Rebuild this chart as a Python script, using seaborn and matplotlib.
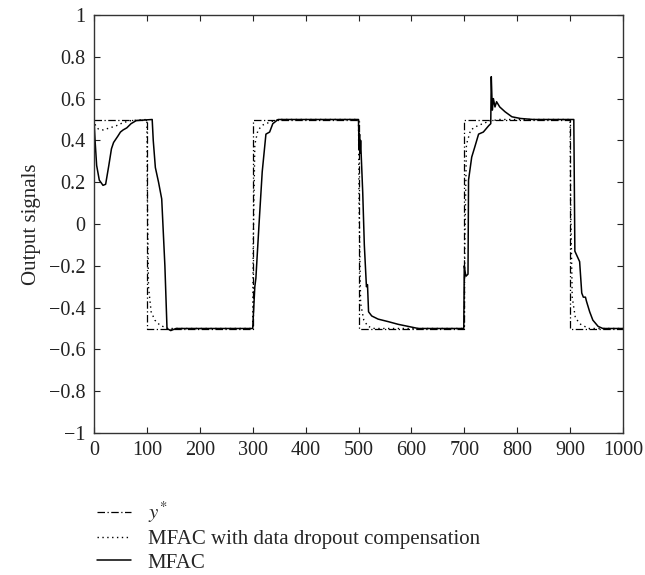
import matplotlib
matplotlib.use("Agg")
import matplotlib.pyplot as plt
import numpy as np
import pandas as pd
import seaborn as sns

# reference signal y* (piecewise constant)
ref_k = [0, 100, 300, 500, 700, 900, 1000]
ref_y = [0.5, -0.5, 0.5, -0.5, 0.5, -0.5, -0.5]

# MFAC with data dropout compensation (dotted)
comp_k = [0, 3, 8, 17, 30, 42, 55, 70, 100, 101, 103, 108, 115, 125, 140, 160,
          300, 301, 304, 310, 320, 335, 350, 500, 501, 504, 510, 518, 530,
          700, 701, 704, 712, 725, 745, 765, 900, 901, 904, 910, 920, 935, 1000]
comp_y = [0.5, 0.47, 0.455, 0.45, 0.46, 0.47, 0.485, 0.495, 0.5, 0.1, -0.3,
          -0.42, -0.46, -0.485, -0.5, -0.5,
          -0.5, -0.1, 0.38, 0.45, 0.475, 0.49, 0.5, 0.5, 0.1, -0.38, -0.46,
          -0.49, -0.5,
          -0.5, -0.1, 0.38, 0.45, 0.47, 0.49, 0.5, 0.5, 0.1, -0.35, -0.45,
          -0.48, -0.5, -0.5]

# MFAC (solid)
mfac_k = [0, 2, 5, 10, 17, 22, 28, 33, 37, 45, 50, 55, 62, 70, 80, 110,
          112, 116, 122, 128, 134, 138, 145, 155,
          300, 301, 304, 306, 312, 318, 325, 332, 338, 348,
          498, 500, 501, 502, 503, 504, 508, 511, 515, 517, 519, 525, 537,
          556, 575, 594, 613,
          699, 700, 701, 703, 707, 708, 714, 720, 727, 736, 746, 750, 751,
          753, 755, 758, 761, 767, 777, 790, 806, 830,
          907, 909, 918, 922, 925, 929, 931, 937, 943, 953, 962, 1000]
mfac_y = [0.5, 0.4, 0.28, 0.21, 0.185, 0.19, 0.28, 0.36, 0.39, 0.42, 0.44,
          0.45, 0.46, 0.48, 0.495, 0.5,
          0.4, 0.27, 0.2, 0.12, -0.2, -0.5, -0.51, -0.5,
          -0.5, -0.45, -0.3, -0.26, 0.0, 0.25, 0.43, 0.44, 0.48, 0.5,
          0.5, 0.5, 0.36, 0.43, 0.34, 0.4, 0.15, -0.1, -0.3, -0.29, -0.42,
          -0.44, -0.455, -0.467, -0.48, -0.49, -0.5,
          -0.5, -0.2, -0.22, -0.25, -0.24, 0.21, 0.32, 0.37, 0.43, 0.44,
          0.47, 0.48, 0.705, 0.545, 0.6, 0.56, 0.585, 0.56, 0.537, 0.513,
          0.505, 0.5,
          0.5, -0.13, -0.18, -0.33, -0.35, -0.35, -0.37, -0.42, -0.46,
          -0.49, -0.5, -0.5]

sns.set_style("ticks")
plt.rcParams["font.family"] = ["Liberation Serif", "DejaVu Serif"]
plt.rcParams["mathtext.fontset"] = "stix"
plt.rcParams["axes.unicode_minus"] = True

fig = plt.figure(figsize=(6.45, 5.75), dpi=100)
ax = fig.add_axes([94 / 645, 1 - 433 / 575, 529 / 645, 418 / 575])

ref_df = pd.DataFrame({"k": ref_k, "y": ref_y})
comp_df = pd.DataFrame({"k": comp_k, "y": comp_y})
mfac_df = pd.DataFrame({"k": mfac_k, "y": mfac_y})

sns.lineplot(data=ref_df, x="k", y="y", ax=ax, color="black", lw=0.9,
             linestyle=(0, (6, 2, 1, 2)), drawstyle="steps-post",
             estimator=None, sort=False, label=r"$y^{*}$")
sns.lineplot(data=comp_df, x="k", y="y", ax=ax, color="black", lw=1.0,
             linestyle=(0, (1, 2.5)), estimator=None, sort=False,
             label="MFAC with data dropout compensation")
sns.lineplot(data=mfac_df, x="k", y="y", ax=ax, color="black", lw=1.1,
             estimator=None, sort=False, label="MFAC")

ax.set_xlim(0, 1000)
ax.set_ylim(-1, 1)
ax.set_xticks(np.arange(0, 1001, 100))
ax.set_yticks(np.round(np.arange(-1, 1.01, 0.2), 1))
ax.set_yticklabels(["−1", "−0.8", "−0.6", "−0.4", "−0.2", "0",
                    "0.2", "0.4", "0.6", "0.8", "1"])
ax.set_xlabel("")
ax.set_ylabel("Output signals", fontsize=15, labelpad=6)
ax.tick_params(direction="in", length=4, width=0.8, top=True, right=True,
               labelsize=14.5, colors="#222222", pad=6)
for sp in ax.spines.values():
    sp.set_color("#333333")
    sp.set_linewidth(1.0)

h, l = ax.get_legend_handles_labels()
ax.get_legend().remove()
fig.legend(h, l, loc="upper left", bbox_to_anchor=(78 / 645, 1 - 481 / 575),
           frameon=False, fontsize=15, handlelength=1.65, handletextpad=0.8,
           labelspacing=0.2)

fig.savefig("out.png", dpi=100)
